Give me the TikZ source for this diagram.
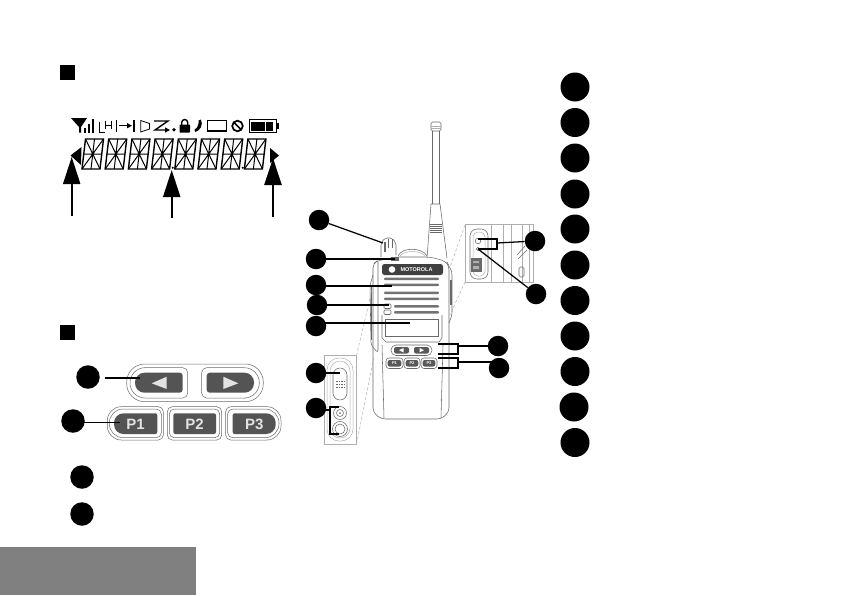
\documentclass[tikz,border=0pt]{standalone}
\usepackage{fontspec}
\setsansfont{Liberation Sans}
\usetikzlibrary{arrows.meta}
\definecolor{band}{RGB}{128,128,128}
\definecolor{keydark}{RGB}{84,84,84}
\definecolor{keypale}{RGB}{226,226,226}
\definecolor{soft}{RGB}{105,105,105}
\definecolor{pale}{RGB}{175,175,175}
\tikzset{
  bigdot/.style={circle, fill=black, inner sep=0pt, minimum size=29pt},
  meddot/.style={circle, fill=black, inner sep=0pt, minimum size=23.5pt},
  smalldot/.style={circle, fill=black, inner sep=0pt, minimum size=20.5pt},
  bullet/.style={fill=black, inner sep=0pt, minimum size=15pt},
  callout/.style={black, line width=1.25pt},
  pointer/.style={-{Triangle[length=27pt,width=17pt]}, black, line width=2pt},
  hull/.style={soft, line width=0.55pt},
  hairline/.style={pale, line width=0.5pt},
  inset/.style={pale, densely dashed, line width=0.5pt},
  keytext/.style={font=\sffamily\bfseries\fontsize{15}{15}\selectfont, text=keypale, inner sep=0pt},
  tinykey/.style={font=\sffamily\bfseries\fontsize{4}{4}\selectfont, text=white, inner sep=0pt},
  seg/.style={black, line width=1pt},
  icon/.style={black, line width=1.1pt},
}
% x1,y1,x2,y2,left radius,right radius
\newcommand{\keyoutline}[7]{
  \path[#1,rounded corners=#7] ({(#2+#4)/2},#3) -- (#4,#3) -- (#4,#5) -- ({(#2+#4)/2},#5)
    [rounded corners=#6] -- (#2,#5) -- (#2,#3) -- cycle;
}
\begin{document}
\begin{tikzpicture}[x=1pt,y=-1pt]
  \useasboundingbox (0,0) rectangle (845,595);
  \fill[band] (0,547) rectangle (196,595);
  \node[bullet] (headA) at (67.5,72) {};
  \node[bullet] (headB) at (67.5,332.5) {};

  % icon row
  \fill (71,118) -- (87,118) -- (81,127) -- (81,132.5) -- (79,132.5) -- (79,127) -- cycle;
  \foreach \x/\y in {84/128,88/124,92/119} \fill (\x,\y) rectangle ++(2.4,{132.8-\y});
  \draw[black,line width=0.7pt] (99.3,121.7) -- (99.3,132.3) -- (105,132.3) (105,120.5) -- (105,129) (111.7,120.5) -- (111.7,129) (105,125) -- (111.7,125);
  \draw[icon] (116.7,120) -- (116.7,131.7) (134,120) -- (134,131.7);
  \draw[-{Triangle[length=5pt,width=5pt]},icon] (119,125.7) -- (132,125.7);
  \draw[black,line width=0.8pt] (140.7,120.5) -- (149.5,123.5) -- (149.5,129) -- (140.7,132) -- cycle;
  \draw[-{Triangle[length=5pt,width=5pt]},black,line width=1.4pt] (154,121) -- (168,121) -- (155,130) -- (170,130);
  \fill (174,129.7) circle (1.9);
  \fill[rounded corners=0.7pt] (179.5,124.5) rectangle (190,132.5);
  \draw[black,line width=1.4pt] (181.7,125) -- (181.7,122.5) arc[start angle=180,end angle=360,x radius=3,y radius=3] -- (187.7,125);
  \fill (201,119.5) .. controls (203.5,125) and (200,131) .. (195,132) -- (194.5,129.5) .. controls (197.5,128.5) and (199,124) .. (198.5,120.5) -- cycle;
  \draw[black,line width=1.5pt] (207.3,120.7) rectangle (226.7,131);
  \draw[black,line width=1.7pt] (237.5,126) circle (5.3) (233.8,122.3) -- (241.2,129.7);
  \draw[black,line width=1.3pt] (249.3,119.5) rectangle (276.2,132.2);
  \fill (277,122.5) rectangle (278.5,129.3);
  \foreach \x in {251.2,258.4,265.8} \fill (\x,121.5) rectangle ++(7,9);

  % segment digits
  \foreach \i in {0,...,7} {
    \begin{scope}[shift={({82+23.2*\i},169)}]
      \draw[seg,line width=1.4pt] (0,0) -- (18,0) -- (21.5,-30) -- (3.5,-30) -- cycle;
      \draw[seg] (1.75,-15) -- (19.75,-15) (9,0) -- (12.5,-30)
        (3.5,-30) -- (10.75,-15) -- (21.5,-30) (0,0) -- (10.75,-15) -- (18,0);
    \end{scope}
  }
  \fill (172.7,167.7) circle (1.1) (242.7,167.7) circle (1.1);
  \fill (81.5,147) -- (70.5,155.5) -- (81,165) -- cycle;
  \fill (270,148) -- (279,155.5) -- (270,163) -- cycle;
  \coordinate (lcdA) at (71.7,157);
  \coordinate (lcdB) at (171.7,170);
  \coordinate (lcdC) at (273,158);
  \coordinate (tailA) at (71.7,216);
  \coordinate (tailB) at (171.7,217.5);
  \coordinate (tailC) at (273,216.5);
  \draw[pointer] (tailA) -- (lcdA);
  \draw[pointer] (tailB) -- (lcdB);
  \draw[pointer,line width=2.4pt] (tailC) -- (lcdC);

  % key panel
  \keyoutline{draw=soft,line width=0.5pt}{126.7}{364}{263.3}{401.7}{18pt}{18pt}
  \keyoutline{draw=soft,line width=0.5pt}{130}{367.7}{187.7}{398}{15pt}{5pt}
  \keyoutline{draw=soft,line width=0.5pt}{201.7}{367.7}{259.3}{398}{5pt}{15pt}
  \keyoutline{fill=keydark}{135}{372.7}{182.7}{392.7}{9.5pt}{3pt}
  \keyoutline{fill=keydark}{206.7}{372.7}{254}{392.7}{3pt}{9.5pt}
  \fill[keypale] (151.7,383.3) -- (166.7,376.7) -- (166.7,389) -- cycle;
  \fill[keypale] (223.3,376.7) -- (223.3,389) -- (238.3,383.3) -- cycle;
  \foreach \xa/\xb/\xc/\xd/\ra/\rb/\da/\db/\lbl in {107.3/163.3/114/157.3/14pt/5pt/9.5pt/2pt/P1,167.3/221.7/173.3/216/5pt/5pt/2pt/2pt/P2,225.7/281/232.7/275.7/5pt/14pt/2pt/9.5pt/P3} {
    \keyoutline{draw=soft,line width=0.5pt}{\xa}{406.7}{\xb}{440}{\ra}{\rb}
    \keyoutline{draw=soft,line width=0.5pt}{\xa+2}{409}{\xb-2}{437.7}{\ra}{\rb}
    \keyoutline{fill=keydark}{\xc}{413.3}{\xd}{434}{\da}{\db}
    \node[keytext] (key\lbl) at ({(\xc+\xd)/2},424) {\lbl};
  }
  \node[meddot] (panelA) at (88,377) {};
  \node[meddot] (panelB) at (73,421) {};
  \node[meddot] (panelC) at (82,477) {};
  \node[meddot] (panelD) at (82,514) {};
  \coordinate (panelAs) at (105,378);
  \coordinate (panelAe) at (140,378);
  \coordinate (panelBe) at (120,422.5);
  \draw[callout] (panelAs) -- (panelAe);
  \draw[callout] (panelBe -| panelB) -- (panelBe);

  % antenna and knob
  \draw[hull,rounded corners=1.5pt] (431,131) -- (431,122) -- (441,122) -- (441,131) -- cycle;
  \foreach \y in {126,128} \draw[hairline] (431,\y) -- (441,\y);
  \draw[hull] (432,131) -- (432,204) (439.5,131) -- (439.5,204);
  \draw[hull] (427,258) -- (431,204) -- (440,204) -- (447,258);
  \foreach \y in {224,226,228,230,232} \draw[hull] (430,\y) -- (442,\y);
  \draw[hull,rounded corners=2pt] (381,257) -- (381,243) -- (385,238) -- (392,238) -- (396,243) -- (396,255);
  \fill[soft] (383.5,242) rectangle (385.5,252);
  \draw[hull] (388,239) -- (388,248) (392,239) -- (392,248);
  \draw[hull] (398,256) .. controls (402,247) and (422,247) .. (427,256);
  \draw[hairline] (400,256) .. controls (404,250) and (420,250) .. (425,256);

  % radio body
  \draw[hull,rounded corners=4pt] (373,353) -- (373,264) -- (377,261) -- (395,257) -- (430,257) -- (445,261) -- (449,266) -- (449,412) -- (441,419) -- (381,419) -- (373,412) -- cycle;
  \draw[hull] (382,345) -- (384,418) (443,345) -- (441,418);
  \draw[hull,rounded corners=3pt] (373,275) -- (370,285) -- (371,345) -- (378,353) -- (378,262);
  \draw[hull,rounded corners=3pt] (447,262) -- (452,272) -- (452,315) -- (449,323);
  \fill[soft] (450,280) rectangle (451.5,305);
  \fill[soft] (370.5,285) rectangle (372,340);
  \fill[soft] (391,257) rectangle (399,261);
  \fill[black!75,rounded corners=2.5pt] (382,264) -- (443,264) -- (443,275) -- (382,275) -- cycle;
  \fill[white] (392,269.5) circle (3.3);
  \node[font=\sffamily\bfseries\fontsize{5.5}{5.5}\selectfont,text=white,inner sep=0pt] (logo) at (416.5,269.5) {MOTOROLA};
  \foreach \y in {277.5,283.5,291.5,297.5} \fill[black!55,rounded corners=1pt] (384,\y) rectangle (439,\y+2.6);
  \foreach \y in {305,311} {
    \fill[black!55,rounded corners=1pt] (394,\y) rectangle (439,\y+2.6);
    \draw[soft,line width=0.6pt,rounded corners=1pt] (384,\y-1) rectangle (391,\y+3.5);
  }
  \draw[hull] (382,315) -- (382,338) -- (386,342) -- (439,342) -- (442,338) -- (442,315);
  \draw[hull] (385,319) rectangle (438,336);

  % keys on the radio
  \draw[hull,rounded corners=5pt] (391,345) rectangle (432,355.5);
  \foreach \xa/\xb/\tip in {393/410/-1,413/430/1} {
    \fill[black!65,rounded corners=2pt] (\xa+1,347) rectangle (\xb-1,353.5);
    \fill[white] ({(\xa+\xb)/2+2.5*\tip},350.2) -- ({(\xa+\xb)/2-2*\tip},348) -- ({(\xa+\xb)/2-2*\tip},352.4) -- cycle;
  }
  \foreach \xa/\xb/\lbl in {386/403/P1,404/420/P2,421/437/P3} {
    \draw[hull,rounded corners=3pt] (\xa,358) rectangle (\xb,368.5);
    \fill[black!65,rounded corners=2pt] (\xa+1.7,360) rectangle (\xb-1.7,366.5);
    \node[tinykey] (small\lbl) at ({(\xa+\xb)/2},363.2) {\lbl};
  }

  % left inset
  \draw[hairline] (324,355.5) rectangle (356.5,444);
  \draw[inset] (356.5,355.5) -- (372,290);
  \draw[inset] (356.5,444) -- (374,357);
  \draw[hairline,rounded corners=12pt] (327,358) rectangle (353,441);
  \draw[hairline,rounded corners=10pt] (330,361) rectangle (350,438);
  \draw[hull,rounded corners=7pt] (333,368) rectangle (347,400);
  \foreach \x in {337.5,340,342.5,345} \foreach \y in {381,384,387} \fill[soft] (\x-1.2,\y) rectangle ++(1.2,1.2);
  \draw[hull] (340,413) circle (6.5) (340,413) circle (3.5) (340,429) circle (7.5) (340,429) circle (5);
  \fill[soft] (340,413) circle (1);

  % right inset
  \draw[hairline] (465,224) rectangle (533,282);
  \draw[inset] (465,225) -- (450,267);
  \draw[inset] (465,282) -- (450,315);
  \foreach \x in {491,503,511,522,529} \draw[hairline] (\x,224) -- (\x,282);
  \draw[hull,rounded corners=7pt] (470,229) rectangle (488,279);
  \draw[hairline,rounded corners=5pt] (473,232) rectangle (485,276);
  \draw[hull] (478,241) circle (2.8) (478,249) circle (1.8);
  \fill[soft] (471,258) rectangle (482,272);
  \fill[pale] (473,261) rectangle (479,263) (473,266) rectangle (479,269);
  \draw[hull,rounded corners=2pt] (517,255) -- (525,246) (518,259) -- (527,250);
  \draw[hull,rounded corners=1.5pt] (519,267) rectangle (524,277);

  % callouts on the radio
  \node[smalldot] (partA) at (319,220) {};
  \node[smalldot] (partB) at (316,259) {};
  \node[smalldot] (partC) at (316,285) {};
  \node[smalldot] (partD) at (317,305) {};
  \node[smalldot] (partE) at (316,326) {};
  \node[smalldot] (partF) at (316,373) {};
  \node[smalldot] (partG) at (316,408) {};
  \node[smalldot] (partH) at (498,346) {};
  \node[smalldot] (partI) at (499,368) {};
  \node[smalldot] (partJ) at (535,241) {};
  \node[smalldot] (partK) at (536,294) {};
  \coordinate (knob) at (383,243);
  \coordinate (led) at (395,259);
  \coordinate (grille) at (392,286);
  \coordinate (mic) at (389,305);
  \coordinate (screen) at (410,323);
  \coordinate (ptt) at (340,373);
  \coordinate (sideA) at (330,410);
  \coordinate (keysA) at (458,346);
  \coordinate (keysB) at (458,362);
  \coordinate (jackA) at (497,243);
  \coordinate (jackB) at (478,249);
  \draw[callout] (partA) -- (knob);
  \draw[callout] (partB) -- (led);
  \draw[callout] (grille -| partC) -- (grille);
  \draw[callout] (partD) -- (mic);
  \draw[callout] (screen -| partE) -- (screen);
  \draw[callout] (partF) -- (ptt);
  \draw[callout] (339,407) -- (330,407) -- (330,434) -- (339,434);
  \draw[callout] (sideA -| partG) -- (sideA);
  \draw[callout] (438,344) -- (458,344) -- (458,354) -- (438,354);
  \draw[callout] (keysA) -- (partH);
  \draw[callout] (438,358) -- (458,358) -- (458,368) -- (438,368);
  \draw[callout] (keysB) -- (keysB -| partI);
  \draw[callout] (478,239) -- (497,239) -- (497,249) -- (478,249);
  \draw[callout] (jackA) -- (partJ);
  \draw[callout] (jackB) -- (partK);

  % list on the right
  \foreach \y [count=\i] in {87,122.5,158,194,229,265,300.5,336,371.5,407,442.5} {
    \node[bigdot] (item\i) at ({\i==10 ? 574 : 575},\y) {};
  }
\end{tikzpicture}
\end{document}
